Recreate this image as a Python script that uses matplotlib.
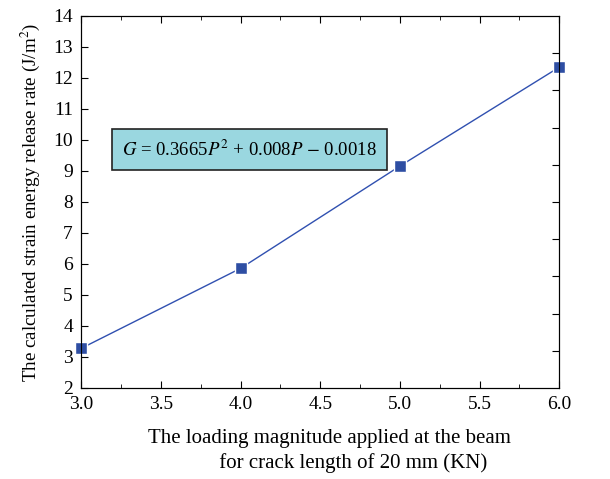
import matplotlib
matplotlib.use("Agg")
import matplotlib.pyplot as plt
from matplotlib.ticker import MultipleLocator

plt.rcParams['font.family'] = ['Liberation Serif', 'DejaVu Serif']
plt.rcParams['mathtext.fontset'] = 'stix'

# load P (KN) and strain energy release rate G (J/m^2)
load = [3.0, 4.0, 5.0, 6.0]
g_rate = [3.28, 5.86, 9.16, 12.35]
x_ticks = [3.0, 3.5, 4.0, 4.5, 5.0, 5.5, 6.0]
y_ticks = list(range(2, 15))
right_ticks = [3.2, 4.4, 5.6, 6.8, 8.0, 9.2, 10.4, 11.6, 12.8]

fig = plt.figure(figsize=(6.1, 4.79), dpi=100)
ax = fig.add_axes([0.1333, 0.19, 0.7836, 0.7766])

ax.plot(load, g_rate, color='#3050b0', lw=1.0, marker='s', ms=9,
        mfc='#2e4ea3', mec='white', mew=1.0, clip_on=False, zorder=3)

ax.set_xlim(3.0, 6.0)
ax.set_ylim(2, 14)
ax.set_xticks(x_ticks)
ax.set_xticklabels(['%.1f' % v for v in x_ticks])
ax.set_yticks(y_ticks)
ax.xaxis.set_minor_locator(MultipleLocator(0.25))
ax.tick_params(axis='both', which='both', direction='in', labelsize=14,
               top=True, pad=6)
ax.tick_params(axis='y', right=False)
ax.tick_params(which='major', length=5)
ax.tick_params(which='minor', length=3)

# odd tick spacing on the right spine
ax2 = ax.twinx()
ax2.set_ylim(2, 14)
ax2.set_yticks(right_ticks)
ax2.set_yticklabels([])
ax2.tick_params(axis='y', direction='in', length=5)

ax.set_xlabel('The loading magnitude applied at the beam\n'
              '         for crack length of 20 mm (KN)', fontsize=15,
              labelpad=8, linespacing=1.35)
ax.xaxis.set_label_coords(0.52, -0.11, transform=ax.transAxes)
ax.xaxis.label.set_va('top')
ax.set_ylabel('The calculated strain energy release rate (J/m$^2$)',
              fontsize=13.7, labelpad=8)

ax.text(3.258, 9.69, r'$G$ = 0.3665$P^2$ + 0.008$P$ $-$ 0.0018',
        fontsize=13.5, va='center', ha='left',
        bbox=dict(boxstyle='square,pad=0.55', fc='#9ad7e0', ec='#222222', lw=1.2))

fig.savefig('out.png', dpi=100)
